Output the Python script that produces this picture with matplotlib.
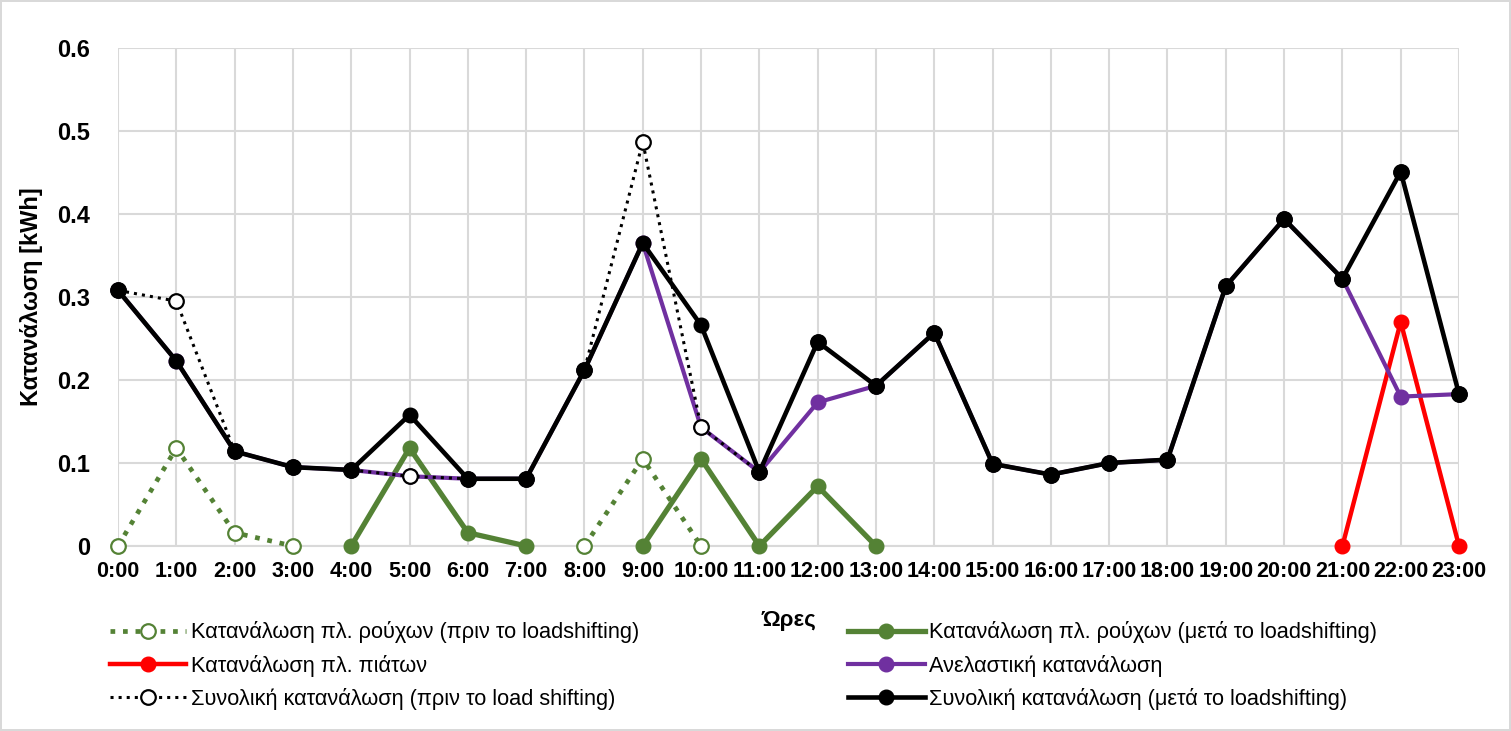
import numpy as np
import matplotlib
matplotlib.use('Agg')
import matplotlib.pyplot as plt

plt.rcParams['font.family'] = ['Liberation Sans', 'DejaVu Sans']

nan = np.nan
hours = [f"{h}:00" for h in range(24)]

# κατανάλωση πλυντηρίου ρούχων πριν / μετά το load shifting
wash_before = [0, 0.118, 0.016, 0, nan, nan, nan, nan, 0, 0.105, 0, nan,
               nan, nan, nan, nan, nan, nan, nan, nan, nan, nan, nan, nan]
wash_after = [nan, nan, nan, nan, 0, 0.118, 0.016, 0, nan, 0, 0.105, 0,
              0.072, 0, nan, nan, nan, nan, nan, nan, nan, nan, nan, nan]
# πλυντήριο πιάτων
dish = [nan] * 21 + [0, 0.27, 0]
# ανελαστική κατανάλωση
inelastic = [0.308, 0.223, 0.114, 0.095, 0.0916, 0.084, 0.081, 0.081, 0.212, 0.365,
             0.143, 0.089, 0.173, 0.193, 0.257, 0.099, 0.086, 0.1, 0.104, 0.313,
             0.394, 0.322, 0.18, 0.183]
# συνολική κατανάλωση
total_before = [0.308, 0.295, 0.114, 0.095, 0.0916, 0.084, 0.081, 0.081, 0.212, 0.487,
                0.143, 0.089, 0.246, 0.193, 0.257, 0.099, 0.086, 0.1, 0.104, 0.313,
                0.394, 0.322, 0.451, 0.183]
total_after = [0.308, 0.223, 0.114, 0.095, 0.0916, 0.158, 0.081, 0.081, 0.212, 0.365,
               0.266, 0.089, 0.246, 0.193, 0.257, 0.099, 0.086, 0.1, 0.104, 0.313,
               0.394, 0.322, 0.451, 0.183]

green = '#548235'
red = '#FF0000'
purple = '#7030A0'

fig = plt.figure(figsize=(15.11, 7.31), dpi=100)
fig.patch.set_edgecolor('#D9D9D9')
fig.patch.set_linewidth(1.5)
ax = fig.add_axes([0.0781, 0.2531, 0.8875, 0.6812])

x = np.arange(24)
ms = 10.5
l1, = ax.plot(x, wash_before, ':', color=green, lw=3.4, marker='o', ms=ms,
              mfc='white', mec=green, mew=1.6, clip_on=False, zorder=3,
              label='Κατανάλωση πλ. ρούχων (πριν το loadshifting)')
l2, = ax.plot(x, wash_after, '-', color=green, lw=3.8, marker='o', ms=ms,
              clip_on=False, zorder=4,
              label='Κατανάλωση πλ. ρούχων (μετά το loadshifting)')
l3, = ax.plot(x, dish, '-', color=red, lw=3.2, marker='o', ms=ms,
              clip_on=False, zorder=5, label='Κατανάλωση πλ. πιάτων')
l4, = ax.plot(x, inelastic, '-', color=purple, lw=3.0, marker='o', ms=ms,
              clip_on=False, zorder=6, label='Ανελαστική κατανάλωση')
l5, = ax.plot(x, total_before, ':', color='black', lw=2.2, marker='o', ms=ms,
              mfc='white', mec='black', mew=1.6, clip_on=False, zorder=7,
              label='Συνολική κατανάλωση (πριν το load shifting)')
l6, = ax.plot(x, total_after, '-', color='black', lw=3.3, marker='o', ms=ms,
              clip_on=False, zorder=8,
              label='Συνολική κατανάλωση (μετά το loadshifting)')

ax.set_xlim(0, 23)
ax.set_ylim(0, 0.6)
ax.set_xticks(x)
ax.set_xticklabels(hours)
ax.set_yticks([0, 0.1, 0.2, 0.3, 0.4, 0.5, 0.6])
ax.set_yticklabels(['0', '0.1', '0.2', '0.3', '0.4', '0.5', '0.6'])
ax.grid(True, color='#D9D9D9', lw=1.5)
ax.set_axisbelow(True)
for s in ['top', 'right', 'left']:
    ax.spines[s].set_visible(False)
ax.spines['bottom'].set_color('#D9D9D9')
ax.spines['bottom'].set_linewidth(1.5)
ax.tick_params(length=0)
ax.tick_params(axis='x', pad=11, labelsize=15.5)
ax.tick_params(axis='y', pad=20, labelsize=17)
for t in ax.get_xticklabels() + ax.get_yticklabels():
    t.set_fontweight('bold')

ax.set_xlabel('Ώρες', fontsize=16, fontweight='bold', labelpad=20)
ax.set_ylabel('Κατανάλωση [kWh]', fontsize=17, fontweight='bold', labelpad=10)

handles = [l1, l3, l5, l2, l4, l6]
fig.legend(handles, [h.get_label() for h in handles], ncol=2,
           loc='upper left', bbox_to_anchor=(0.0728, 0.150), frameon=False,
           borderpad=0, borderaxespad=0, fontsize=15.7, handlelength=3.5,
           handletextpad=0.2, columnspacing=9.6, labelspacing=0.52)

fig.savefig('out.png', dpi=100)
